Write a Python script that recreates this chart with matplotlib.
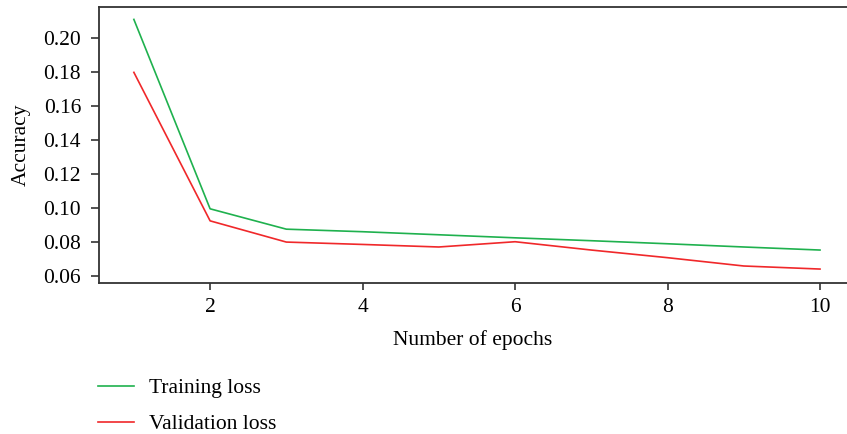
import matplotlib
matplotlib.use('Agg')
import matplotlib.pyplot as plt
import numpy as np

plt.rcParams['font.family'] = ['Liberation Serif', 'DejaVu Serif']

epochs = [1, 2, 3, 4, 5, 6, 7, 8, 9, 10]
train_loss = [0.2112, 0.0996, 0.0876, 0.0861, 0.0843, 0.0825, 0.0808, 0.0790, 0.0771, 0.0753]
val_loss = [0.1800, 0.0925, 0.0800, 0.0786, 0.0771, 0.0802, 0.0753, 0.0708, 0.0659, 0.0641]
yticks = [0.06, 0.08, 0.10, 0.12, 0.14, 0.16, 0.18, 0.20]
xticks = [2, 4, 6, 8, 10]

fs = 15.5
fig = plt.figure(figsize=(8.47, 4.34), dpi=100)
ax = fig.add_axes([0.117, 0.348, 0.883, 0.637])

ax.plot(epochs, train_loss, color='#1fb14e', lw=1.2, label='Training loss')
ax.plot(epochs, val_loss, color='#f0282a', lw=1.2, label='Validation loss')

ax.set_xlim(0.544, 10.354)
ax.set_ylim(0.0559, 0.2188)
ax.set_xticks(xticks)
ax.set_yticks(yticks)
ax.set_yticklabels(['%.2f' % v for v in yticks])
ax.tick_params(axis='both', labelsize=fs, color='#333333', width=1.2)
ax.tick_params(axis='y', length=6, pad=7)
ax.tick_params(axis='x', length=5, pad=6)
ax.spines['right'].set_visible(False)
for s in ['left', 'top', 'bottom']:
    ax.spines[s].set_color('#333333')
    ax.spines[s].set_linewidth(1.3)

ax.set_xlabel('Number of epochs', fontsize=fs, labelpad=9)
ax.set_ylabel('Accuracy', fontsize=fs, labelpad=9)

fig.legend(loc='upper left', bbox_to_anchor=(0.116, 0.129), frameon=False,
           fontsize=fs, handlelength=1.65, handletextpad=0.7, labelspacing=0.75,
           borderaxespad=0, borderpad=0)

fig.savefig('out.png', dpi=100)
